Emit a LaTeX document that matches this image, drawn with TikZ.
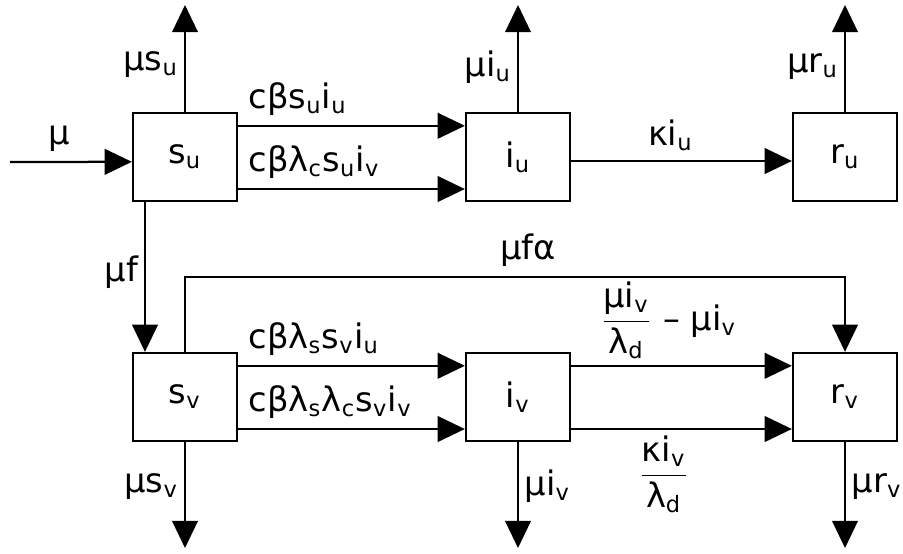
\documentclass[tikz,border=0pt]{standalone}
\usepackage{fontspec}
\setmainfont{DejaVu Sans}
\usetikzlibrary{arrows.meta, positioning}
\newcommand{\low}[1]{\textsubscript{#1}}

\begin{document}
\begin{tikzpicture}[
    x=0.0125cm, y=-0.0125cm,
    font=\fontsize{12}{14}\selectfont,
    compartment/.style={rectangle, draw=black, fill=white, line width=0.8pt, minimum width=1.3cm, minimum height=1.1cm, inner sep=0pt},
    flow/.style={-{Triangle[length=0.34cm, width=0.32cm]}, line width=0.8pt},
    lbl/.style={inner sep=2pt}
]
\useasboundingbox (0,0) rectangle (903,553);

\node[compartment] (su) at (185,157) {s\low{u}};
\node[compartment] (iu) at (518,157) {i\low{u}};
\node[compartment] (ru) at (845,157) {r\low{u}};
\node[compartment] (sv) at (185,397) {s\low{v}};
\node[compartment] (iv) at (518,397) {i\low{v}};
\node[compartment] (rv) at (845,397) {r\low{v}};

\coordinate (in)    at (10,162);
\coordinate (outsu) at (185,5);
\coordinate (outiu) at (518,5);
\coordinate (outru) at (845,5);
\coordinate (outsv) at (185,548);
\coordinate (outiv) at (518,548);
\coordinate (outrv) at (845,548);

% upper row
\draw[flow] (in) -- node[above, pos=0.4] {μ} ([yshift=-0.06cm]su.west);
\draw[flow] (su.north) -- node[left, lbl, pos=0.44] {μs\low{u}} (outsu);
\draw[flow] (iu.north) -- node[left, lbl, pos=0.42] {μi\low{u}} (outiu);
\draw[flow] (ru.north) -- node[left, lbl, pos=0.42] {μr\low{u}} (outru);
\draw[flow] ([yshift=0.39cm]su.east) -- node[above right, pos=0] {cβs\low{u}i\low{u}} ([yshift=0.39cm]iu.west);
\draw[flow] ([yshift=-0.4cm]su.east) -- node[above right, pos=0] {cβλ\low{c}s\low{u}i\low{v}} ([yshift=-0.4cm]iu.west);
\draw[flow] ([yshift=-0.05cm]iu.east) -- node[above, pos=0.45] {κi\low{u}} ([yshift=-0.05cm]ru.west);

% vaccinated row
\draw[flow] ([xshift=-0.5cm]su.south) -- node[left, lbl, pos=0.47] {μf} ([xshift=-0.5cm]sv.north);
\draw[flow] (sv.north) -- ++(0,-75) -| node[above, pos=0.26] {μfα} (rv.north);
\draw[flow] ([yshift=0.39cm]sv.east) -- node[above right, pos=0] {cβλ\low{s}s\low{v}i\low{u}} ([yshift=0.39cm]iv.west);
\draw[flow] ([yshift=-0.4cm]sv.east) -- node[above right, pos=0] {cβλ\low{s}λ\low{c}s\low{v}i\low{v}} ([yshift=-0.4cm]iv.west);
\draw[flow] ([yshift=0.39cm]iv.east) -- node[above, lbl, pos=0.44] {$\displaystyle\frac{\mbox{μi\low{v}}}{\mbox{λ\low{d}}}$ -- μi\low{v}} ([yshift=0.39cm]rv.west);
\draw[flow] ([yshift=-0.4cm]iv.east) -- node[below, lbl, pos=0.42] {$\displaystyle\frac{\mbox{κi\low{v}}}{\mbox{λ\low{d}}}$} ([yshift=-0.4cm]rv.west);
\draw[flow] (sv.south) -- node[left, lbl, pos=0.42] {μs\low{v}} (outsv);
\draw[flow] (iv.south) -- node[right, lbl, pos=0.42] {μi\low{v}} (outiv);
\draw[flow] (rv.south) -- node[right, lbl, pos=0.42] {μr\low{v}} (outrv);

\end{tikzpicture}
\end{document}
